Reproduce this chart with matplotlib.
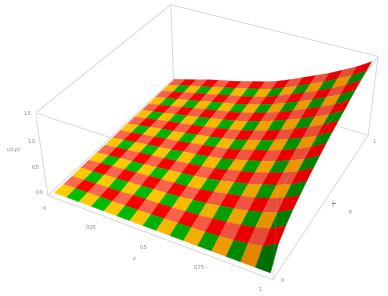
import numpy as np
import matplotlib
matplotlib.use('Agg')
import matplotlib.pyplot as plt
from mpl_toolkits.mplot3d import proj3d

plt.rcParams['font.family'] = ['Liberation Sans', 'DejaVu Sans']
plt.rcParams['mathtext.fontset'] = 'custom'
plt.rcParams['mathtext.rm'] = 'Liberation Sans'

x_ticks = [0, 0.25, 0.5, 0.75, 1]
x_tick_labels = ['0', '0.25', '0.5', '0.75', '1']
p_ticks = [0, 0.5, 1]
p_tick_labels = ['0', r'$\frac{1}{2}$', '1']
z_ticks = [0.0, 0.5, 1.0, 1.5]
z_tick_labels = ['0.0', '0.5', '1.0', '1.5']

# surface height, one row per p = 0, 1/16 ... 1, columns x = 0, 1/16 ... 1
surface_z = [
    [0.00, 0.00, 0.00, 0.00, 0.00, 0.00, 0.00, 0.00, 0.00, 0.00, 0.00, 0.00, 0.00, 0.00, 0.00, 0.00, 0.00],
    [0.00, 0.01, 0.01, 0.02, 0.02, 0.03, 0.03, 0.04, 0.05, 0.06, 0.07, 0.08, 0.10, 0.12, 0.16, 0.21, 0.36],
    [0.00, 0.01, 0.02, 0.03, 0.04, 0.06, 0.07, 0.08, 0.09, 0.11, 0.13, 0.16, 0.19, 0.23, 0.28, 0.36, 0.51],
    [0.01, 0.02, 0.04, 0.05, 0.07, 0.08, 0.10, 0.11, 0.13, 0.16, 0.19, 0.23, 0.27, 0.32, 0.39, 0.48, 0.63],
    [0.01, 0.03, 0.05, 0.07, 0.09, 0.11, 0.13, 0.15, 0.17, 0.20, 0.24, 0.29, 0.34, 0.40, 0.48, 0.58, 0.72],
    [0.01, 0.03, 0.06, 0.08, 0.10, 0.13, 0.15, 0.18, 0.21, 0.24, 0.29, 0.35, 0.40, 0.48, 0.56, 0.66, 0.81],
    [0.01, 0.04, 0.07, 0.10, 0.12, 0.15, 0.18, 0.21, 0.24, 0.28, 0.34, 0.40, 0.46, 0.54, 0.63, 0.74, 0.89],
    [0.01, 0.05, 0.08, 0.11, 0.14, 0.17, 0.21, 0.24, 0.28, 0.32, 0.38, 0.45, 0.52, 0.60, 0.70, 0.81, 0.96],
    [0.02, 0.05, 0.09, 0.12, 0.16, 0.19, 0.23, 0.27, 0.31, 0.36, 0.42, 0.50, 0.57, 0.66, 0.76, 0.88, 1.03],
    [0.02, 0.06, 0.10, 0.14, 0.17, 0.21, 0.25, 0.29, 0.34, 0.39, 0.46, 0.54, 0.62, 0.72, 0.82, 0.94, 1.09],
    [0.02, 0.06, 0.11, 0.15, 0.19, 0.23, 0.27, 0.32, 0.37, 0.43, 0.50, 0.58, 0.67, 0.77, 0.88, 1.00, 1.15],
    [0.02, 0.07, 0.11, 0.16, 0.20, 0.25, 0.30, 0.35, 0.40, 0.46, 0.54, 0.63, 0.72, 0.82, 0.93, 1.05, 1.20],
    [0.02, 0.07, 0.12, 0.17, 0.22, 0.27, 0.32, 0.37, 0.42, 0.49, 0.57, 0.66, 0.76, 0.87, 0.98, 1.10, 1.26],
    [0.03, 0.08, 0.13, 0.18, 0.23, 0.29, 0.34, 0.39, 0.45, 0.52, 0.60, 0.70, 0.80, 0.91, 1.03, 1.15, 1.31],
    [0.03, 0.08, 0.14, 0.19, 0.25, 0.30, 0.36, 0.41, 0.47, 0.54, 0.64, 0.74, 0.84, 0.95, 1.07, 1.20, 1.36],
    [0.03, 0.09, 0.15, 0.21, 0.26, 0.32, 0.38, 0.44, 0.50, 0.57, 0.67, 0.77, 0.88, 0.99, 1.12, 1.25, 1.40],
    [0.03, 0.09, 0.15, 0.22, 0.28, 0.33, 0.39, 0.46, 0.52, 0.60, 0.70, 0.81, 0.92, 1.03, 1.16, 1.29, 1.45],
]

Z = np.array(surface_z)
n = Z.shape[0] - 1
X, P = np.meshgrid(np.linspace(0, 1, n + 1), np.linspace(0, 1, n + 1))

X0, X1 = -0.02, 1.02
Z0, Z1 = -0.03, 1.53
W, H = 388, 296
left, bottom, L = 36.49, -7.86, 348.49

fig = plt.figure(figsize=(W / 100, H / 100), dpi=100)
ax = fig.add_axes([left / W, bottom / H, L / W, L / H], projection='3d')
ax.set_xlim(X0, X1, view_margin=0)
ax.set_ylim(X0, X1, view_margin=0)
ax.set_zlim(Z0, Z1, view_margin=0)
ax.view_init(35.19, -61.789, 0.179)
ax.set_proj_type('persp', focal_length=0.45)
ax.set_box_aspect((1.3226, 1.3226, 0.534))
ax.set_axis_off()
ax.computed_zorder = False

# checker colours, darker where the surface is steep
yellow = np.array([255, 204, 0]) / 255
green = np.array([0, 190, 0]) / 255
tomato = np.array([255, 105, 80]) / 255
red = np.array([255, 0, 0]) / 255
colors = np.zeros((n, n, 3))
for i in range(n):
    for j in range(n):
        if i % 2 == 0:
            base = yellow if j % 2 == 0 else green
        else:
            base = tomato if j % 2 == 0 else red
        zx = (Z[i, j + 1] + Z[i + 1, j + 1] - Z[i, j] - Z[i + 1, j]) / 2 * n
        zp = (Z[i + 1, j] + Z[i + 1, j + 1] - Z[i, j] - Z[i, j + 1]) / 2 * n
        t = 1 - 1 / np.sqrt(1 + (zx**2 + zp**2) * 0.5)
        colors[i, j] = base * np.array([1 - 0.2 * t, 1 - 0.6 * t, 1 - 0.6 * t])

box = [((X0, X0, Z0), (X1, X0, Z0)), ((X1, X0, Z0), (X1, X1, Z0)), ((X1, X1, Z0), (X0, X1, Z0)), ((X0, X1, Z0), (X0, X0, Z0)),
       ((X0, X0, Z1), (X1, X0, Z1)), ((X1, X0, Z1), (X1, X1, Z1)), ((X1, X1, Z1), (X0, X1, Z1)), ((X0, X1, Z1), (X0, X0, Z1)),
       ((X0, X0, Z0), (X0, X0, Z1)), ((X1, X0, Z0), (X1, X0, Z1)), ((X1, X1, Z0), (X1, X1, Z1)), ((X0, X1, Z0), (X0, X1, Z1))]
for a, b in box:
    ax.plot(*zip(a, b), color='#d2d2d2', lw=0.6, zorder=1)

ax.plot_surface(X, P, Z, facecolors=colors, rstride=1, cstride=1, shade=False, linewidth=0.25, zorder=2)

# front edges only just show through the surface
for a, b in [box[4], box[5], box[9]]:
    ax.plot(*zip(a, b), color='white', alpha=0.12, lw=0.6, zorder=3)

M = ax.get_proj()


def label(s, xyz, off, **kw):
    u, v, _ = proj3d.proj_transform(*xyz, M)
    ax.annotate(s, (u, v), xytext=off, textcoords='offset pixels', ha='center', va='center',
                fontsize=4.0, color='#888888', annotation_clip=False, **kw)


for t, s in zip(x_ticks, x_tick_labels):
    label(s, (t, X0, Z0), (-10, -12) if len(s) > 1 else (-7.5, -12))
for t, s in zip(p_ticks, p_tick_labels):
    label(s, (X1, t, Z0), (7, -4))
for t, s in zip(z_ticks, z_tick_labels):
    label(s, (X0, X0, t), (-8, 1))
label('z', (0.5, X0, Z0), (-20, -23), style='italic')
label('p', (X1, 0.5, Z0), (23.5, -11.5), style='italic')
label('u(z,p)', (X0, X0, 0.75), (-28, 6), style='italic')

fig.savefig('out.png', dpi=100)
